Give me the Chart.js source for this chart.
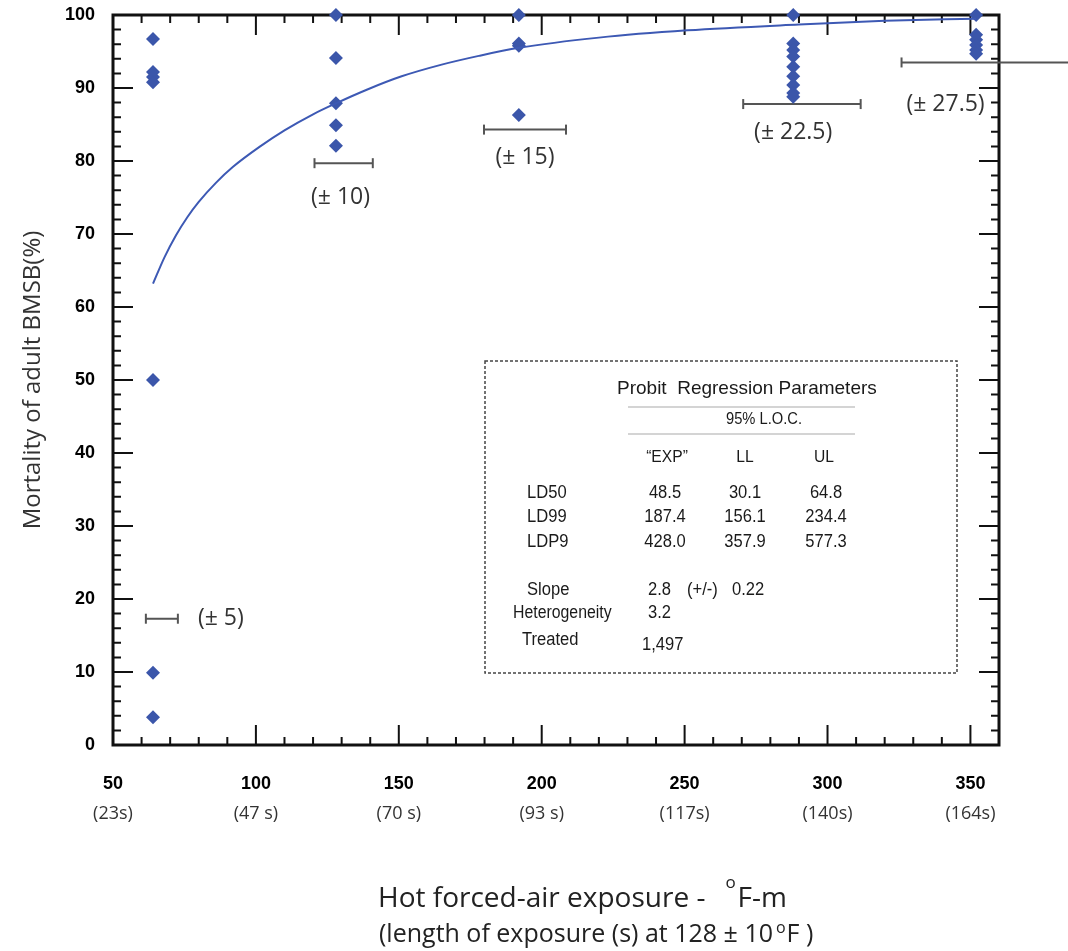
<!DOCTYPE html>
<html lang="en">
<head>
<meta charset="UTF-8">
<title>BMSB mortality - hot forced-air exposure</title>
<script src="https://cdn.jsdelivr.net/npm/chart.js"></script>
<style>
  body { margin: 0; background: #fff; }
</style>
</head>
<body>
<canvas id="mortalityChart" width="1068" height="951"></canvas>
<script>
// observed mortality (%) grouped by dose (°F-m)
const doses = [64, 128, 192, 288, 352];
const mortality = [
    [96.7, 92.2, 91.5, 90.8, 50, 9.9, 3.8],
    [100, 94.1, 87.9, 84.9, 82.1],
    [100, 96.1, 95.8, 86.3],
    [100, 96.1, 95.2, 94.3, 92.9, 91.6, 90.4, 89.3, 88.8],
    [100, 97.3, 96.6, 95.9, 95.2, 94.7]
];

// fitted probit curve
const fitDose = [64, 68, 72, 76, 80, 86, 92, 101.5, 110, 120, 128, 139, 151, 165, 178, 192, 220, 251, 290, 320, 352];
const fitMortality = [63.2, 66.8, 69.8, 72.3, 74.4, 77, 79.2, 82, 84.2, 86.4, 87.9, 89.8, 91.6, 93.2, 94.4, 95.5, 96.9, 97.9, 98.7, 99.2, 99.5];

// dose ranges drawn as horizontal bars
const rangeLevel = [17.3, 79.7, 84.3, 87.8, 93.5];
const rangeLow = [61.5, 120.5, 179.8, 270.5, 325.9];
const rangeHigh = [72.7, 140.9, 208.5, 311.6, 386];
const rangeLabels = ['(± 5)', '(± 10)', '(± 15)', '(± 22.5)', '(± 27.5)'];

// axis labels
const xTicks = [50, 100, 150, 200, 250, 300, 350];
const secondsLabels = ['(23s)', '(47 s)', '(70 s)', '(93 s)', '(117s)', '(140s)', '(164s)'];

// probit table
const probitRows = ['LD50', 'LD99', 'LDP9'];
const probitExp = ['48.5', '187.4', '428.0'];
const probitLL = ['30.1', '156.1', '357.9'];
const probitUL = ['64.8', '234.4', '577.3'];

const BLUE = '#3b56aa';
const SANS = '"Open Sans", "DejaVu Sans", sans-serif';
const ARIAL = '"Liberation Sans", Arial, sans-serif';

const scatterPoints = [];
doses.forEach((d, i) => mortality[i].forEach(m => scatterPoints.push({ x: d, y: m })));

const datasets = [
    {
        type: 'line',
        data: fitDose.map((x, i) => ({ x: x, y: fitMortality[i] })),
        borderColor: '#3d59b4',
        borderWidth: 2,
        pointRadius: 0,
        cubicInterpolationMode: 'monotone'
    },
    {
        type: 'scatter',
        data: scatterPoints,
        pointStyle: 'rectRot',
        pointRadius: 7,
        backgroundColor: BLUE,
        borderWidth: 0,
        clip: false
    }
];
rangeLevel.forEach((lvl, i) => {
    datasets.push({
        type: 'line',
        data: [{ x: rangeLow[i], y: lvl }, { x: rangeHigh[i], y: lvl }],
        borderColor: '#555',
        borderWidth: 2,
        pointStyle: 'line',
        pointRotation: 90,
        pointRadius: 5,
        pointBorderColor: '#555',
        pointBorderWidth: 2,
        clip: false
    });
});

// label offsets (px) from the left end of each range bar
const rangeLabelOffset = [[75, 0], [26, 34], [41, 28], [50, 28], [44, 42]];

function drawParts(ctx, parts, x, y) {
    parts.forEach(p => {
        x += p.gap || 0;
        ctx.font = p.size + 'px ' + SANS;
        ctx.fillText(p.t, x, y + (p.dy || 0));
        x += ctx.measureText(p.t).width;
    });
}

function narrowText(ctx, str, x, y, align, size, sx) {
    ctx.save();
    ctx.font = size + 'px ' + ARIAL;
    ctx.translate(x, y);
    ctx.scale(sx, 1);
    ctx.textAlign = align;
    ctx.fillText(str, 0, 0);
    ctx.restore();
}

const decorations = {
    id: 'decorations',
    beforeDatasetsDraw(chart) {
        const { ctx, chartArea: a, scales } = chart;
        ctx.save();
        ctx.strokeStyle = '#111';
        ctx.lineWidth = 2;
        // inward ticks on all four sides
        for (let v = 0; v <= 100; v += 2) {
            const py = scales.y.getPixelForValue(v);
            const len = v % 10 === 0 ? 20 : 8;
            ctx.beginPath();
            ctx.moveTo(a.left, py); ctx.lineTo(a.left + len, py);
            ctx.moveTo(a.right, py); ctx.lineTo(a.right - len, py);
            ctx.stroke();
        }
        for (let v = 50; v <= 350; v += 10) {
            const px = scales.x.getPixelForValue(v);
            const len = v % 50 === 0 ? 20 : 8;
            ctx.beginPath();
            ctx.moveTo(px, a.bottom); ctx.lineTo(px, a.bottom - len);
            ctx.moveTo(px, a.top); ctx.lineTo(px, a.top + len);
            ctx.stroke();
        }
        ctx.lineWidth = 3;
        ctx.strokeRect(a.left, a.top, a.right - a.left, a.bottom - a.top);
        ctx.restore();
    },
    afterDatasetsDraw(chart) {
        const { ctx, chartArea: a, scales } = chart;
        ctx.save();

        // range labels
        ctx.fillStyle = '#333';
        ctx.font = '23px ' + SANS;
        ctx.textAlign = 'center';
        ctx.textBaseline = 'middle';
        rangeLabels.forEach((t, i) => {
            const px = scales.x.getPixelForValue(rangeLow[i]) + rangeLabelOffset[i][0];
            const py = scales.y.getPixelForValue(rangeLevel[i]) + rangeLabelOffset[i][1];
            ctx.fillText(t, px, py);
        });

        // y axis title
        ctx.save();
        ctx.translate(33, (a.top + a.bottom) / 2);
        ctx.rotate(-Math.PI / 2);
        ctx.font = '24px ' + SANS;
        ctx.fillText('Mortality of adult BMSB(%)', 0, 0);
        ctx.restore();

        // x axis titles
        ctx.textAlign = 'left';
        ctx.textBaseline = 'alphabetic';
        ctx.fillStyle = '#222';
        drawParts(ctx, [
            { t: 'Hot forced-air exposure -', size: 28 },
            { t: 'o', size: 17, dy: -19, gap: 20 },
            { t: 'F-m', size: 28, gap: 2 }
        ], 378, 907);
        drawParts(ctx, [
            { t: '(length of exposure (s) at 128 ± 10', size: 25 },
            { t: 'o', size: 16, dy: -9, gap: 3 },
            { t: 'F )', size: 25, gap: 1 }
        ], 379, 942);

        // probit parameter box
        ctx.setLineDash([3, 2]);
        ctx.strokeStyle = '#444';
        ctx.lineWidth = 1.5;
        ctx.strokeRect(485, 361, 472, 312);
        ctx.setLineDash([]);
        ctx.strokeStyle = '#aaa';
        ctx.lineWidth = 1.2;
        ctx.beginPath();
        ctx.moveTo(628, 407); ctx.lineTo(855, 407);
        ctx.moveTo(628, 434); ctx.lineTo(855, 434);
        ctx.stroke();

        ctx.fillStyle = '#1a1a1a';
        narrowText(ctx, 'Probit  Regression Parameters', 617, 394, 'left', 19, 1.0);
        narrowText(ctx, '95% L.O.C.', 764, 424, 'center', 16, 0.92);
        const colX = [667, 745, 824];
        narrowText(ctx, '\u201CEXP\u201D', colX[0], 462, 'center', 17, 0.92);
        narrowText(ctx, 'LL', colX[1], 462, 'center', 17, 0.92);
        narrowText(ctx, 'UL', colX[2], 462, 'center', 17, 0.92);
        const rowY = [498, 522, 547];
        probitRows.forEach((r, i) => {
            narrowText(ctx, r, 527, rowY[i], 'left', 18, 0.92);
            narrowText(ctx, probitExp[i], colX[0] - 2, rowY[i], 'center', 18, 0.92);
            narrowText(ctx, probitLL[i], colX[1], rowY[i], 'center', 18, 0.92);
            narrowText(ctx, probitUL[i], colX[2] + 2, rowY[i], 'center', 18, 0.92);
        });
        narrowText(ctx, 'Slope', 527, 595, 'left', 18, 0.92);
        narrowText(ctx, '2.8', 648, 595, 'left', 18, 0.92);
        narrowText(ctx, '(+/-)', 687, 595, 'left', 18, 0.92);
        narrowText(ctx, '0.22', 732, 595, 'left', 18, 0.92);
        narrowText(ctx, 'Heterogeneity', 513, 618, 'left', 18, 0.88);
        narrowText(ctx, '3.2', 648, 618, 'left', 18, 0.92);
        narrowText(ctx, 'Treated', 522, 645, 'left', 18, 0.92);
        narrowText(ctx, '1,497', 642, 650, 'left', 18, 0.92);

        ctx.restore();
    }
};

const tickFontBold = { family: ARIAL, size: 18, weight: 'bold' };

new Chart(document.getElementById('mortalityChart').getContext('2d'), {
    data: { datasets: datasets },
    options: {
        responsive: false,
        animation: false,
        layout: { padding: { left: 0, right: 69, top: 15, bottom: 116 } },
        plugins: { legend: { display: false }, tooltip: { enabled: false } },
        scales: {
            x: {
                type: 'linear',
                position: 'bottom',
                weight: 0,
                min: 50,
                max: 360,
                grid: { display: false },
                border: { display: false },
                afterBuildTicks: s => { s.ticks = xTicks.map(v => ({ value: v })); },
                ticks: { font: tickFontBold, color: '#000', padding: 20, maxRotation: 0, autoSkip: false },
                afterFit: s => { s.height = 50; s.paddingLeft = 0; s.paddingRight = 0; }
            },
            x2: {
                type: 'linear',
                position: 'bottom',
                weight: 1,
                min: 50,
                max: 360,
                grid: { display: false },
                border: { display: false },
                afterBuildTicks: s => { s.ticks = xTicks.map(v => ({ value: v })); },
                ticks: {
                    font: { family: SANS, size: 18 },
                    color: '#333',
                    padding: 0,
                    maxRotation: 0,
                    autoSkip: false,
                    callback: v => secondsLabels[xTicks.indexOf(v)]
                },
                afterFit: s => { s.height = 40; s.paddingLeft = 0; s.paddingRight = 0; }
            },
            y: {
                type: 'linear',
                min: 0,
                max: 100,
                grid: { display: false },
                border: { display: false },
                ticks: { stepSize: 10, font: tickFontBold, color: '#000', padding: 10 },
                afterFit: s => { s.width = 113; s.paddingTop = 0; s.paddingBottom = 0; }
            }
        }
    },
    plugins: [decorations]
});
</script>
</body>
</html>
